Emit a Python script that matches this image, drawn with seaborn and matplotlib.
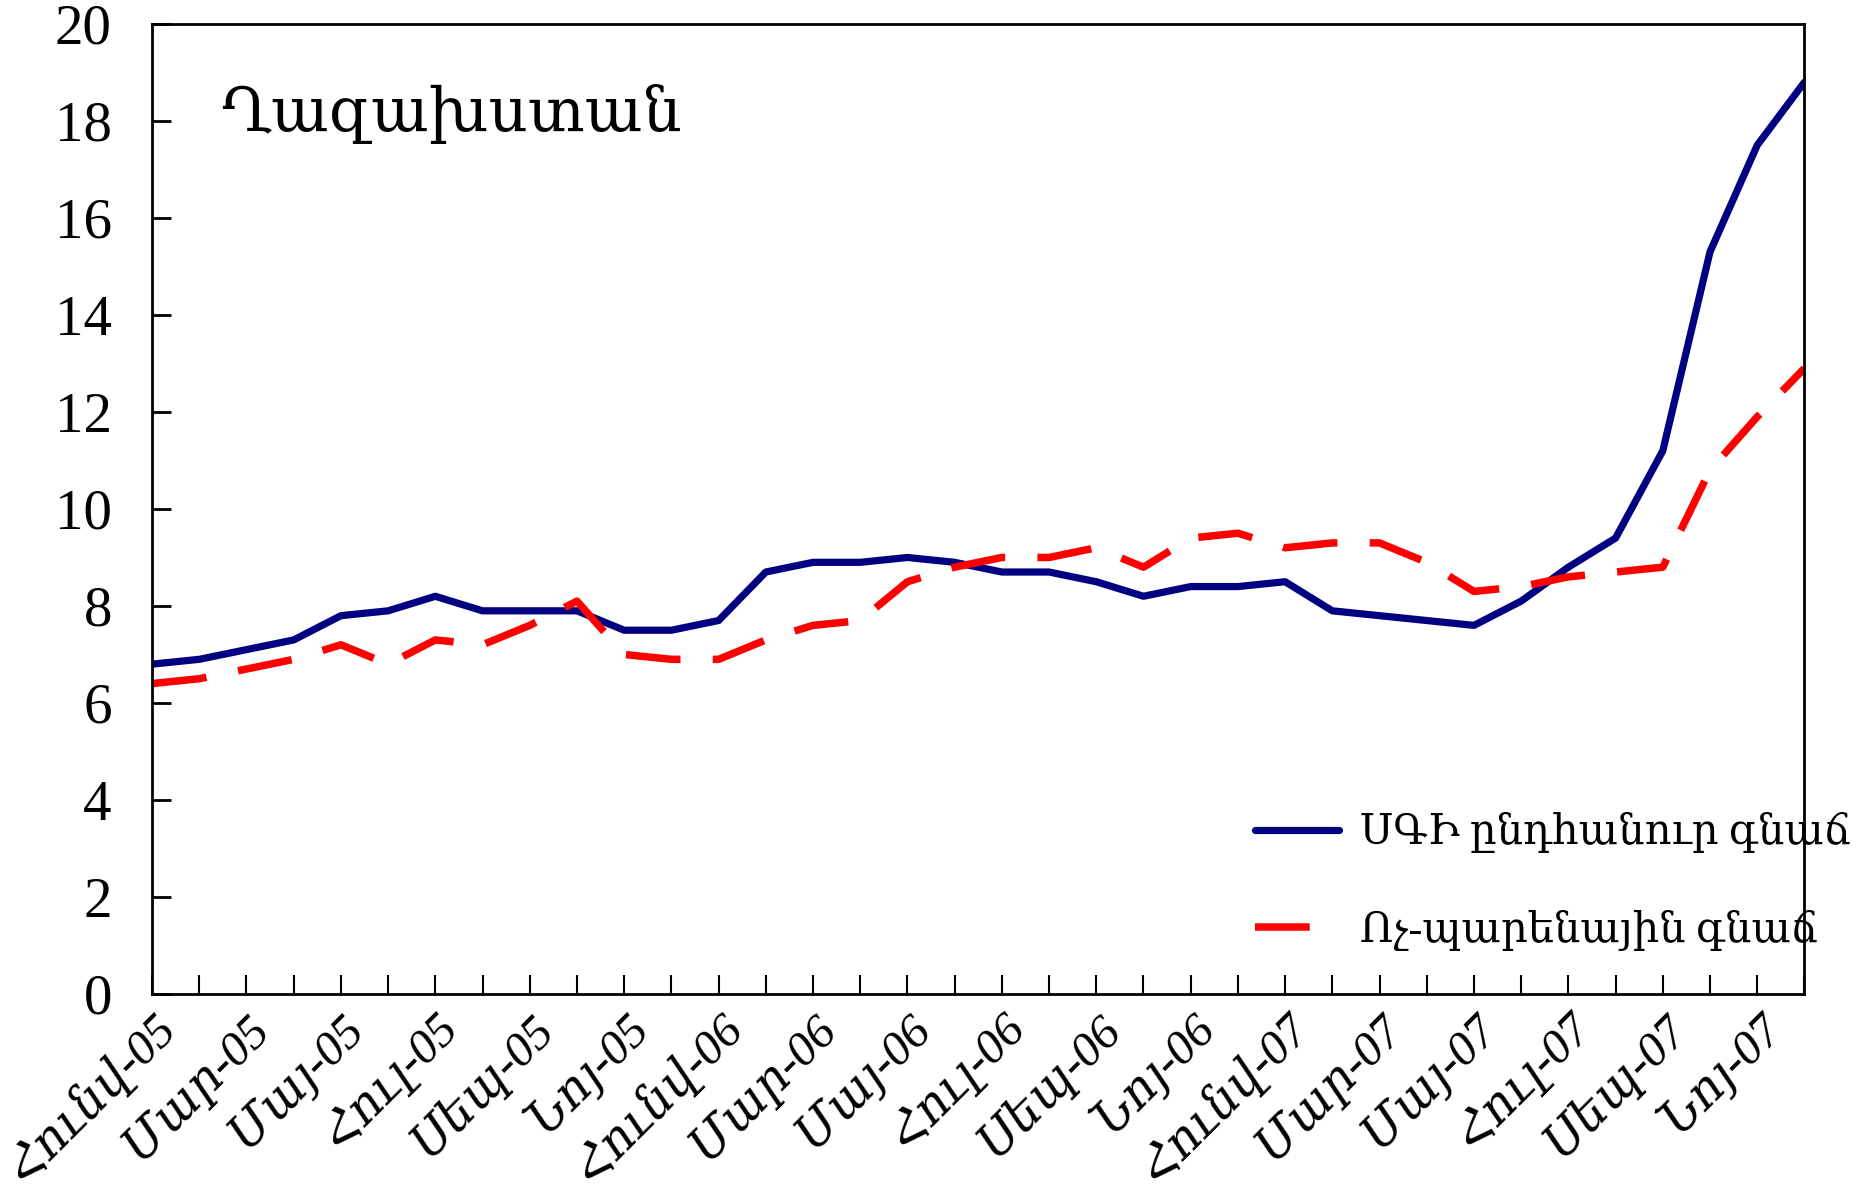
import matplotlib
matplotlib.use("Agg")
import matplotlib.pyplot as plt
import matplotlib.transforms as mtransforms
import seaborn as sns
import pandas as pd

# Ամիսներ (Jan-05 ... Dec-07)
months = ['Հունվ', 'Փետ', 'Մար', 'Ապր', 'Մայ', 'Հուն', 'Հուլ', 'Օգս', 'Սեպ', 'Հոկ', 'Նոյ', 'Դեկ']
years = ['05', '06', '07']
periods = [f'{m}-{y}' for y in years for m in months]

# ՍԳԻ ընդհանուր գնաճ
cpi_total = [6.8, 6.9, 7.1, 7.3, 7.8, 7.9, 8.2, 7.9, 7.9, 7.9, 7.5, 7.5,
             7.7, 8.7, 8.9, 8.9, 9.0, 8.9, 8.7, 8.7, 8.5, 8.2, 8.4, 8.4,
             8.5, 7.9, 7.8, 7.7, 7.6, 8.1, 8.8, 9.4, 11.2, 15.3, 17.5, 18.8]
# Ոչ-պարենային գնաճ
cpi_nonfood = [6.4, 6.5, 6.7, 6.9, 7.2, 6.8, 7.3, 7.2, 7.6, 8.1, 7.0, 6.9,
               6.9, 7.3, 7.6, 7.7, 8.5, 8.8, 9.0, 9.0, 9.2, 8.8, 9.4, 9.5,
               9.2, 9.3, 9.3, 8.9, 8.3, 8.4, 8.6, 8.7, 8.8, 10.8, 11.9, 12.9]

label_total = 'ՍԳԻ ընդհանուր գնաճ'
label_nonfood = 'Ոչ-պարենային գնաճ'
title = 'Ղազախստան'

df = pd.DataFrame({'i': range(len(periods)), 'total': cpi_total, 'nonfood': cpi_nonfood})

sns.set_style('white')
plt.rcParams['font.family'] = ['Liberation Serif', 'DejaVu Serif']
plt.rcParams['text.color'] = 'black'
plt.rcParams['xtick.color'] = 'black'
plt.rcParams['ytick.color'] = 'black'

fig = plt.figure(figsize=(18.66, 11.99), dpi=100)
ax = fig.add_axes([0.0815, 0.171, 0.8855, 0.809])

sns.lineplot(data=df, x='i', y='total', ax=ax, color='#000080', linewidth=5.2,
             label=label_total)
sns.lineplot(data=df, x='i', y='nonfood', ax=ax, color='#FF0000', linewidth=5.4,
             label=label_nonfood)
ax.lines[1].set_dashes((7.3, 4.3))

ax.set_xlim(0, len(periods) - 1)
ax.set_ylim(0, 20)
ax.set_yticks(range(0, 21, 2))
ax.set_xticks(range(len(periods)))
ax.set_xticklabels([p if k % 2 == 0 else '' for k, p in enumerate(periods)],
                   rotation=45, ha='right', va='top', rotation_mode='anchor',
                   fontsize=35, style='italic')
shift = mtransforms.ScaledTranslation(26 / 100, -4 / 100, fig.dpi_scale_trans)
for lbl in ax.get_xticklabels():
    lbl.set_transform(lbl.get_transform() + shift)
ax.tick_params(axis='y', labelsize=41, direction='in', length=14, width=2, left=True, pad=29)
ax.tick_params(axis='x', direction='in', length=14, width=1.5, bottom=True, pad=8)
ax.set_xlabel('')
ax.set_ylabel('')

for s in ax.spines.values():
    s.set_visible(True)
    s.set_color('black')
    s.set_linewidth(2)

ax.text(0.041, 0.907, title, transform=ax.transAxes, fontsize=44, va='center', ha='left',
        color='black')

leg = ax.legend(loc='center left', bbox_to_anchor=(0.645, 0.116), frameon=False,
                fontsize=30, handlelength=2.0, handletextpad=0.5, labelspacing=1.35)

fig.savefig('out.png', dpi=100)
